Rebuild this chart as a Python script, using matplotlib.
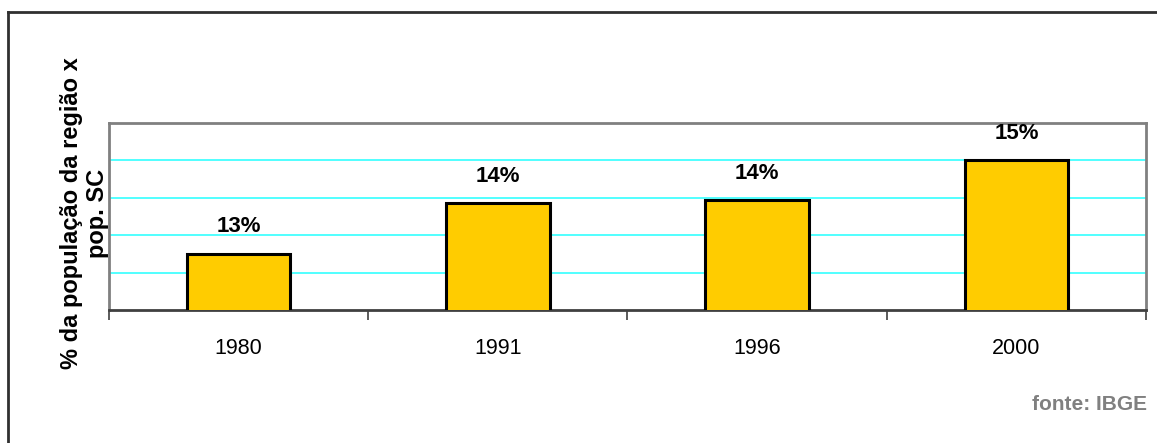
import matplotlib.pyplot as plt
import numpy as np
from matplotlib.lines import Line2D

# Share of Santa Catarina's population living in the region, by census year
years = ["1980", "1991", "1996", "2000"]
shares = [0.1251, 0.1385, 0.1393, 0.1500]
value_labels = ["13%", "14%", "14%", "15%"]

plt.rcParams["font.family"] = ["Liberation Sans", "DejaVu Sans"]

fig = plt.figure(figsize=(11.57, 4.43), dpi=100)
ax = fig.add_axes([0.0942, 0.3002, 0.8963, 0.4221])

x = np.arange(len(years))
ax.bar(x, shares, width=0.4, color="#FFCC00", edgecolor="black",
       linewidth=2.2, zorder=3)

for xi, val, lab in zip(x, shares, value_labels):
    ax.annotate(lab, (xi, val), xytext=(0, 12), textcoords="offset points",
                ha="center", va="bottom", fontsize=16, fontweight="bold")

ax.set_xlim(-0.5, len(years) - 0.5)
ax.set_ylim(0.11, 0.16)
ax.set_yticks([])
for gy in [0.12, 0.13, 0.14, 0.15]:
    ax.axhline(gy, color="#33FFFF", linewidth=1.2, zorder=1)

# category labels centred, tick marks between categories
ax.set_xticks(x)
ax.set_xticklabels(years, fontsize=15.5)
ax.tick_params(axis="x", which="major", length=0, pad=20)
ax.set_xticks(np.arange(-0.5, len(years)), minor=True)
ax.tick_params(axis="x", which="minor", length=7, width=1.2,
               color="#404040", direction="out")

for side in ["left", "top", "right"]:
    ax.spines[side].set_color("#808080")
    ax.spines[side].set_linewidth(2)
ax.spines["bottom"].set_color("#404040")
ax.spines["bottom"].set_linewidth(2)

fig.text(0.073, 0.518, "% da população da região x\npop. SC", rotation=90,
         ha="center", va="center", fontsize=17, fontweight="bold",
         multialignment="center", linespacing=1.2)

fig.text(0.9915, 0.086, "fonte: IBGE", ha="right", va="center",
         fontsize=15, fontweight="bold", color="#808080")

# outer chart frame (top and left edges)
fig.add_artist(Line2D([0.0073, 1.0], [0.974, 0.974], color="#303030",
                      linewidth=2, transform=fig.transFigure))
fig.add_artist(Line2D([0.0073, 0.0073], [0.0, 0.974], color="#303030",
                      linewidth=2, transform=fig.transFigure))

fig.savefig("out.png", dpi=100)
